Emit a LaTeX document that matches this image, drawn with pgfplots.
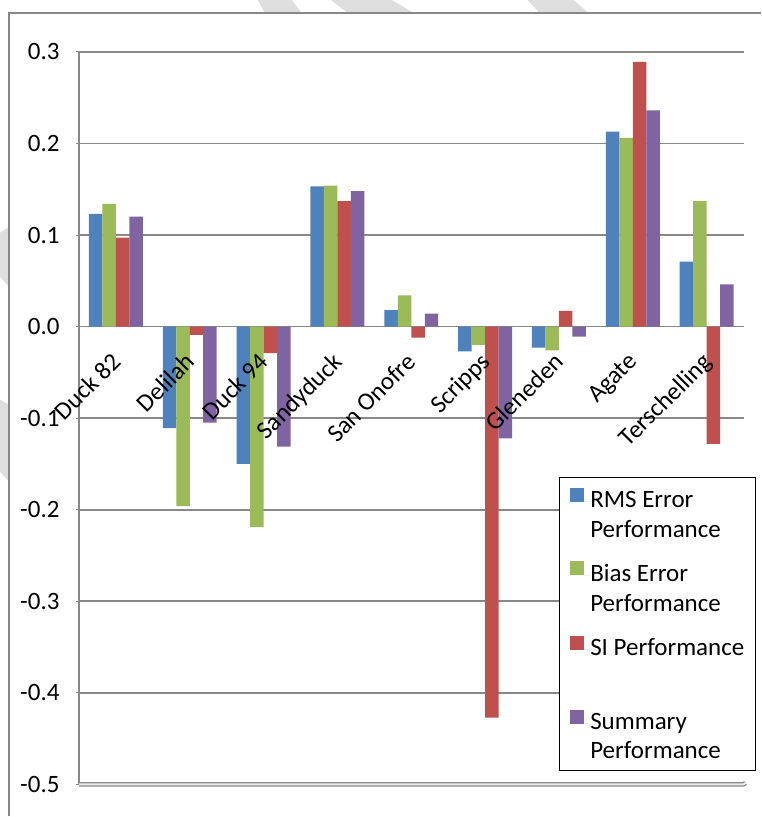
\documentclass[border=0pt]{standalone}
\usepackage{fontspec}
\setmainfont{Carlito}
\usepackage{pgfplots}
\pgfplotsset{compat=1.18}

\definecolor{rmsblue}{RGB}{79,129,189}
\definecolor{biasgreen}{RGB}{155,187,89}
\definecolor{sired}{RGB}{192,80,77}
\definecolor{sumpurple}{RGB}{128,100,162}
\definecolor{gridgray}{RGB}{136,136,136}
\definecolor{wmark}{RGB}{222,222,222}
\newcommand{\cf}{\fontsize{25bp}{29.5bp}\selectfont}

\begin{document}
\begin{tikzpicture}[x=1bp,y=1bp]
\path (0,0) rectangle (762,817);
% watermark stripes in the margin
\fill[wmark] (258,817) -- (292,817) -- (302,804) -- (265,804) -- cycle;
\fill[wmark] (331,817) -- (392,817) -- (414,804) -- (348,804) -- cycle;
\fill[wmark] (528,817) -- (574,817) -- (589,804) -- (540,804) -- cycle;
\fill[wmark] (0,584) -- (9,590) -- (9,530) -- (0,540) -- cycle;
\fill[wmark] (0,417) -- (9,412) -- (9,335) -- (0,345) -- cycle;
% chart area
\fill[white] (9,0) rectangle (762,804);
\draw[gridgray, line width=1.2] (9,0) -- (9,804) -- (761.4,804);

\begin{axis}[
  at={(107,35)}, anchor=south west,
  scale only axis, width=665bp, height=733bp,
  xmin=0.5, xmax=9.5, ymin=-0.5, ymax=0.3,
  clip=false,
  axis x line*=middle, axis y line*=left,
  axis line style={-, draw=gridgray, line width=1.8bp},
  xtick={1,2,3,4,5,6,7,8,9},
  xticklabels={},
  x tick style={draw=none},
  ytick={-0.5,-0.4,-0.3,-0.2,-0.1,0,0.1,0.2,0.3},
  yticklabels={-0.5,-0.4,-0.3,-0.2,-0.1,0.0,0.1,0.2,0.3},
  yticklabel style={font=\cf, xshift=-13bp},
  y tick style={draw=gridgray, line width=1bp},
  major tick length=3bp, tick align=outside,
  ymajorgrids, grid style={draw=gridgray, line width=1.8bp},
  ybar=0pt, bar width=13.5bp,
  legend cell align=left,
  legend style={at={(rel axis cs:0.722,0.419)}, anchor=north west,
    draw=black, line width=1bp, font=\cf,
    inner xsep=11bp, inner ysep=10bp, row sep=23bp,
    nodes={align=left, inner xsep=0bp, inner ysep=0bp}},
  legend image code/.code={\fill[#1] (0bp,13bp) rectangle (14bp,27bp); \path[draw=none] (0bp,13bp) -- (20bp,13bp);},
  after end axis/.code={
    \foreach \i/\name in {1/Duck 82, 2/Delilah, 3/Duck 94, 4/Sandyduck, 5/San Onofre,
                          6/Scripps, 7/Gleneden, 8/Agate, 9/Terschelling}{
      \node[rotate=45, anchor=north east, font=\cf, inner sep=1bp]
        at ([xshift=-6bp, yshift=-23bp]axis cs:\i,0) {\name};
    }
  },
]
\addplot[fill=rmsblue, draw=none] coordinates {
  (1,0.123) (2,-0.111) (3,-0.150) (4,0.153) (5,0.018) (6,-0.027) (7,-0.023) (8,0.213) (9,0.071)};
\addlegendentry{RMS Error\\Performance}
\addplot[fill=biasgreen, draw=none] coordinates {
  (1,0.134) (2,-0.196) (3,-0.219) (4,0.154) (5,0.034) (6,-0.020) (7,-0.026) (8,0.206) (9,0.137)};
\addlegendentry{Bias Error\\Performance}
\addplot[fill=sired, draw=none] coordinates {
  (1,0.097) (2,-0.009) (3,-0.029) (4,0.137) (5,-0.012) (6,-0.427) (7,0.017) (8,0.289) (9,-0.128)};
\addlegendentry{SI Performance\\\mbox{}}
\addplot[fill=sumpurple, draw=none] coordinates {
  (1,0.120) (2,-0.105) (3,-0.131) (4,0.148) (5,0.014) (6,-0.122) (7,-0.011) (8,0.236) (9,0.046)};
\addlegendentry{Summary\\Performance}
% floor of the chart
\draw[gridgray, double=gray!15, double distance=2bp, line width=1.2bp]
  (axis cs:0.5,-0.5) -- (axis cs:9.5,-0.5) -- ++(2bp,1.5bp);
\end{axis}
\end{tikzpicture}
\end{document}
